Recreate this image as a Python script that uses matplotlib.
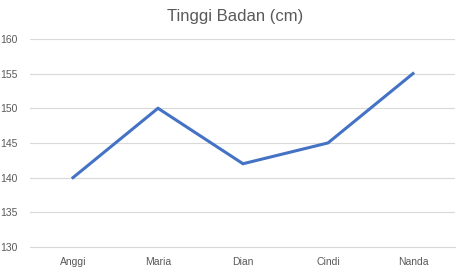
import matplotlib
matplotlib.use("Agg")
import matplotlib.pyplot as plt

names = ["Anggi", "Maria", "Dian", "Cindi", "Nanda"]
tinggi = [140, 150, 142, 145, 155]
yticks = [130, 135, 140, 145, 150, 155, 160]

plt.rcParams["font.family"] = ["Liberation Sans", "DejaVu Sans"]
fig = plt.figure(figsize=(4.67, 2.72), dpi=100)
ax = fig.add_axes([0.0653, 0.092, 0.910, 0.765])
x = list(range(len(names)))
ax.plot(x, tinggi, color="#4472C4", linewidth=2.2, solid_joinstyle="miter")
ax.set_xlim(-0.5, len(names) - 0.5)
ax.set_ylim(130, 160)
ax.set_yticks(yticks)
ax.set_xticks(x)
ax.set_xticklabels(names)
ax.grid(axis="y", color="#D9D9D9", linewidth=0.8)
ax.set_axisbelow(True)
for s in ["top", "right", "left"]:
    ax.spines[s].set_visible(False)
ax.spines["bottom"].set_color("#D9D9D9")
ax.tick_params(length=0, labelsize=7.5, colors="#595959", pad=7)
ax.tick_params(axis="y", pad=9)
fig.text(0.503, 0.94, "Tinggi Badan (cm)", ha="center", va="center", fontsize=12, color="#595959")
fig.savefig("out.png", dpi=100)
